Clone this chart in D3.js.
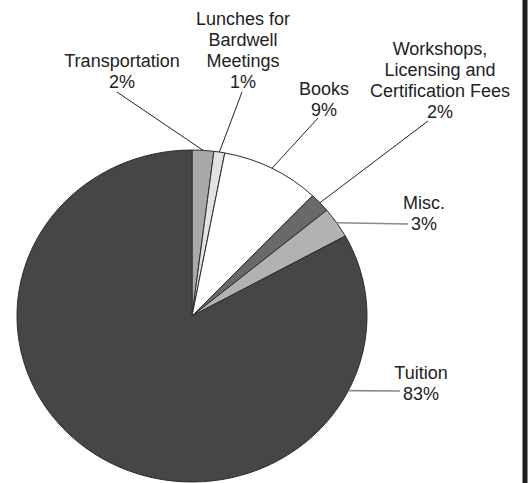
<!DOCTYPE html>
<html>
<head>
<meta charset="utf-8">
<script src="https://cdn.jsdelivr.net/npm/d3@7"></script>
<style>
  html, body { margin: 0; padding: 0; background: #fff; }
  svg { display: block; }
</style>
</head>
<body>
<svg id="chart" width="528" height="483"></svg>
<script>
// data (clockwise from 12 o'clock)
const categories = ["Transportation", "Lunches for Bardwell Meetings", "Books",
  "Workshops, Licensing and Certification Fees", "Misc.", "Tuition"];
const values = [2.0, 1.0, 9.1, 1.9, 3.0, 83.0];
const pctLabels = ["2%", "1%", "9%", "2%", "3%", "83%"];
const labelLines = [["Transportation"], ["Lunches for", "Bardwell", "Meetings"], ["Books"],
  ["Workshops,", "Licensing and", "Certification Fees"], ["Misc."], ["Tuition"]];
const colors = ["#a7a8aa", "#e1e2e4", "#ffffff", "#69696b", "#b1b2b4", "#464648"];

// label layout: text centre x, baseline of the % line, leader end, leader colour
const labelPos = [
  {x: 122, y: 88, ex: 117, ey: 92, c: "#222"},
  {x: 243, y: 88, ex: 242, ey: 92, c: "#222"},
  {x: 324, y: 116, ex: 318, ey: 118, c: "#222"},
  {x: 440, y: 118, ex: 428, ey: 121, c: "#222"},
  {x: 424, y: 230, ex: 408, ey: 224, c: "#8a8a8a"},
  {x: 421, y: 400, ex: 400, ey: 391, c: "#8a8a8a"}
];

const cx = 192, cy = 316, ry = 166, sx = 175 / 166;

const svg = d3.select("#chart");

svg.append("rect").attr("x", 522.5).attr("y", 0).attr("width", 5).attr("height", 483)
  .attr("fill", "#1e1e1e");

const pie = d3.pie().sort(null).value(d => d);
const arcs = pie(values);
const arc = d3.arc().innerRadius(0).outerRadius(ry);

const g = svg.append("g").attr("transform", `translate(${cx},${cy}) scale(${sx},1)`);
g.selectAll("path").data(arcs).enter().append("path")
  .attr("d", arc)
  .attr("fill", (d, i) => colors[i])
  .attr("stroke", "#2c2c2c")
  .attr("stroke-width", 1)
  .attr("vector-effect", "non-scaling-stroke");

function edgePoint(a) {
  return [cx + ry * sx * Math.sin(a), cy - ry * Math.cos(a)];
}

// tuition's leader sits on the right side, not at mid angle
const leaderAngle = arcs.map((d, i) => i === 5 ? 116.7 * Math.PI / 180 : (d.startAngle + d.endAngle) / 2);

arcs.forEach((d, i) => {
  const p = edgePoint(leaderAngle[i]);
  const L = labelPos[i];
  svg.append("line")
    .attr("x1", p[0]).attr("y1", p[1])
    .attr("x2", L.ex).attr("y2", L.ey)
    .attr("stroke", L.c)
    .attr("stroke-width", L.c === "#222" ? 1 : 1.6);

  const lines = labelLines[i].concat([pctLabels[i]]);
  const t = svg.append("text")
    .attr("text-anchor", "middle")
    .attr("font-family", "Liberation Sans, Arial, sans-serif")
    .attr("font-size", "18px")
    .attr("fill", "#222");
  lines.forEach((s, k) => {
    t.append("tspan")
      .attr("x", L.x)
      .attr("y", L.y - (lines.length - 1 - k) * 21)
      .text(s);
  });
});
</script>
</body>
</html>
